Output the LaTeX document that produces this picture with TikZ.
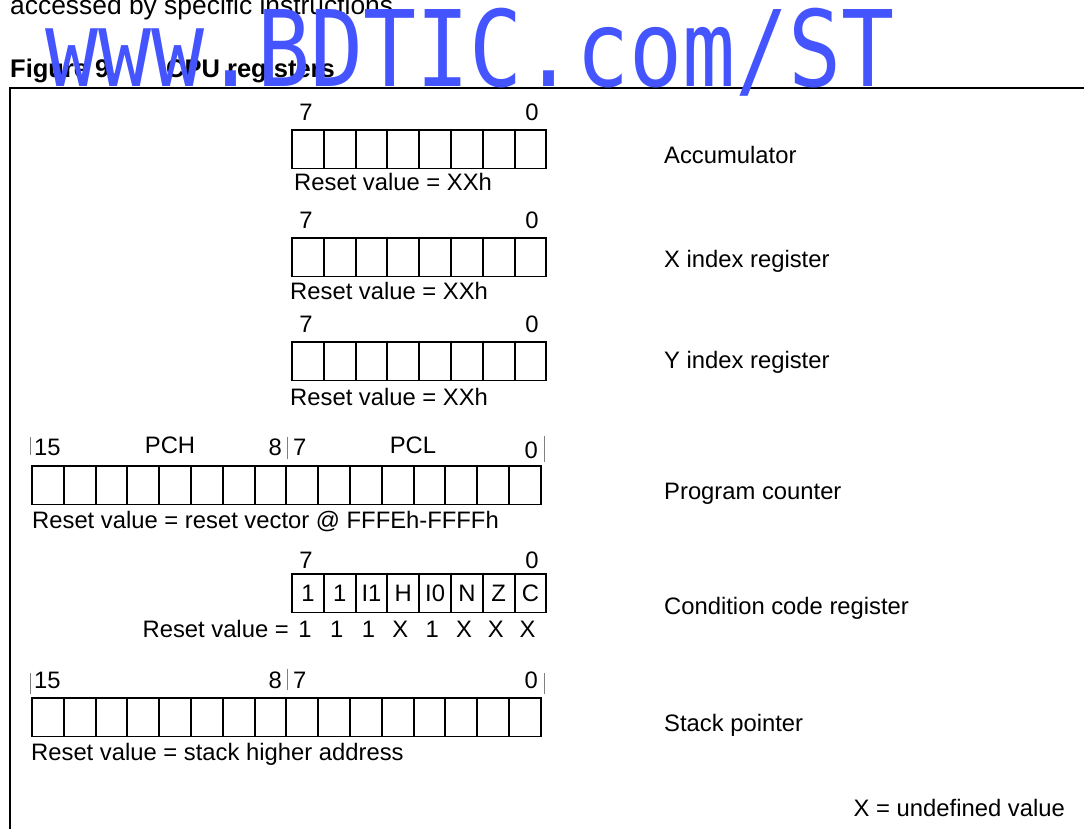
\documentclass[tikz,border=0pt]{standalone}
\usepackage{fontspec}
\setmainfont{Liberation Sans}
\newfontfamily\markfont[FakeStretch=0.835]{DejaVu Sans Mono}
\usetikzlibrary{positioning}
\definecolor{markblue}{RGB}{68,85,255}
\newcommand\regfont{\fontsize{23.8}{28}\selectfont}
\newcommand\pagefont{\fontsize{26.4}{30}\selectfont}
\newcommand\capfont{\fontsize{25.5}{30}\selectfont\bfseries}
\tikzset{
  cell/.style={draw,line width=1.9pt,minimum width=31.8pt,minimum height=38.5pt,
    inner sep=0pt,outer sep=0pt,anchor=north west,font=\regfont},
  lbl/.style={inner sep=0pt,font=\regfont,anchor=base west},
  bitno/.style={inner sep=0pt,font=\regfont,anchor=base},
  bittick/.style={draw=gray,line width=1pt}
}

\begin{document}
\begin{tikzpicture}[x=1pt,y=-1pt,line cap=butt,line join=miter]
  \useasboundingbox (0,0) rectangle (1084,828);
  % page text above the figure
  \node[inner sep=0pt,anchor=base west,font=\pagefont] (intro) at (10,14) {accessed by specific instructions};
  \node[inner sep=0pt,anchor=base west,font=\capfont] (fignum) at (10,77) {Figure 9.};
  \node[inner sep=0pt,anchor=base west,font=\capfont] (figtitle) at (166,77) {CPU registers};
  \draw[line width=1.5pt] (1090,88) -- (10,88) -- (10,834);

  % 8 bit registers
  \foreach \reg/\top in {acc/130,xr/238,yr/342}{
    \foreach \i in {1,...,8}
      \node[cell] (\reg\i) at ({292+(\i-1)*31.8},\top) {};
    \node[bitno] (\reg-msb) at (306,\top-10) {7};
    \node[bitno] (\reg-lsb) at (532,\top-10) {0};
  }
  \node[lbl] (acc-rst) at (294,190) {Reset value = XXh};
  \node[lbl] (xr-rst) at (290,299) {Reset value = XXh};
  \node[lbl] (yr-rst) at (290,405) {Reset value = XXh};
  \node[lbl] (acc-name) at (664,163) {Accumulator};
  \node[lbl] (xr-name) at (664,267) {X index register};
  \node[lbl] (yr-name) at (664,368) {Y index register};

  % program counter
  \foreach \i in {1,...,16}
    \node[cell] (pc\i) at ({32+(\i-1)*31.8},466) {};
  \node[lbl] (pc-msb) at (34,455) {15};
  \node[bitno] (pc-hi) at (170,453) {PCH};
  \node[lbl,anchor=base east] (pc-b8) at (282,455) {8};
  \node[lbl] (pc-b7) at (293,455) {7};
  \node[bitno] (pc-lo) at (413,453) {PCL};
  \node[lbl,anchor=base east] (pc-lsb) at (538,458) {0};
  \draw[bittick] (30,437) -- (30,455);
  \draw[bittick] (287,437) -- (287,459);
  \draw[bittick] (544,436) -- (544,462);
  \node[lbl] (pc-rst) at (32,528) {Reset value = reset vector @ FFFEh-FFFFh};
  \node[lbl] (pc-name) at (664,499) {Program counter};

  % condition code register
  \foreach \flag [count=\i] in {1,1,I1,H,I0,N,Z,C}
    \node[cell] (cc\i) at ({292+(\i-1)*31.8},574) {\flag};
  \node[bitno] (cc-msb) at (306,568) {7};
  \node[bitno] (cc-lsb) at (532,568) {0};
  \node[lbl,anchor=base east] (cc-rst) at (289,637) {Reset value =};
  \foreach \val [count=\i] in {1,1,1,X,1,X,X,X}
    \node[bitno] (cc-rst\i) at ({305+(\i-1)*31.8},637) {\val};
  \node[lbl] (cc-name) at (664,614) {Condition code register};

  % stack pointer
  \foreach \i in {1,...,16}
    \node[cell] (sp\i) at ({32+(\i-1)*31.8},698) {};
  \node[lbl] (sp-msb) at (34,688) {15};
  \node[lbl,anchor=base east] (sp-b8) at (282,688) {8};
  \node[lbl] (sp-b7) at (293,688) {7};
  \node[lbl,anchor=base east] (sp-lsb) at (538,688) {0};
  \draw[bittick] (30,673) -- (30,694);
  \draw[bittick] (287,669) -- (287,690);
  \draw[bittick] (544,673) -- (544,694);
  \node[lbl] (sp-rst) at (31,760) {Reset value = stack higher address};
  \node[lbl] (sp-name) at (664,731) {Stack pointer};

  \node[lbl,anchor=base east] (xnote) at (1065,816) {X = undefined value};

  % watermark
  \node[inner sep=0pt,anchor=base west,text=markblue,font=\markfont\fontsize{105.6}{110}\selectfont] (mark) at (45,86) {www.BDTIC.com/ST};
\end{tikzpicture}
\end{document}
